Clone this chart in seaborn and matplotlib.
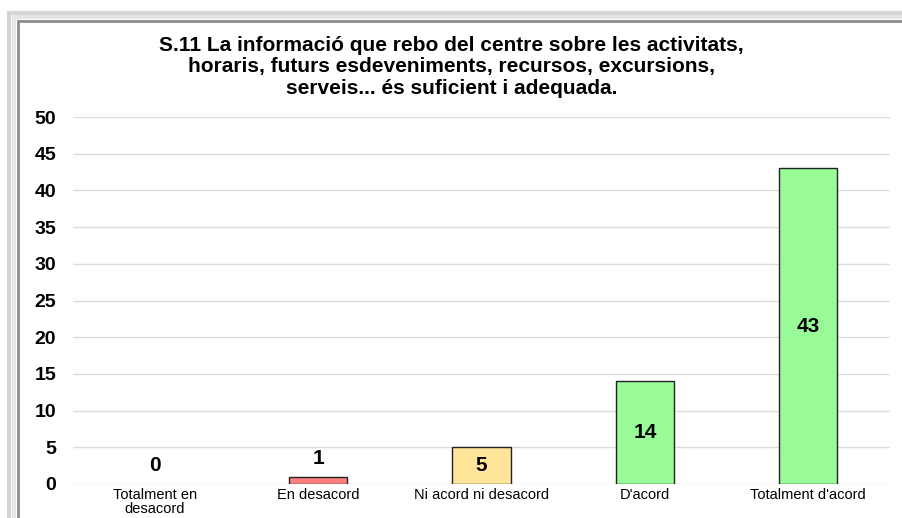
import matplotlib
matplotlib.use("Agg")
import matplotlib.pyplot as plt
from matplotlib.patches import Rectangle
import seaborn as sns
import pandas as pd

# Survey answers for question S.11
categories = ["Totalment en\ndesacord", "En desacord", "Ni acord ni desacord", "D'acord", "Totalment d'acord"]
counts = [0, 1, 5, 14, 43]
bar_colors = ["#FF7F7F", "#FF7F7F", "#FFE599", "#98FB98", "#98FB98"]
title = ("S.11 La informació que rebo del centre sobre les activitats,\n"
         "horaris, futurs esdeveniments, recursos, excursions,\n"
         "serveis... és suficient i adequada.")

sns.set_style("white")
plt.rcParams["font.family"] = ["Liberation Sans", "DejaVu Sans"]
plt.rcParams["text.color"] = "black"
plt.rcParams["xtick.color"] = "black"
plt.rcParams["ytick.color"] = "black"

df = pd.DataFrame({"cat": categories, "n": counts})

fig = plt.figure(figsize=(9.03, 5.18), dpi=100)

# grey double frame around the chart
fig.patches.append(Rectangle((9 / 903, -0.1), 1.2, 1 - 13 / 518 + 0.1, transform=fig.transFigure,
                             fill=False, edgecolor="#d4d4d4", linewidth=3, zorder=0))
fig.patches.append(Rectangle((14 / 903, -0.1), 1.2, 1 - 17 / 518 + 0.1, transform=fig.transFigure,
                             fill=False, edgecolor="#e6e6e6", linewidth=3, zorder=0))
fig.patches.append(Rectangle((18 / 903, -0.1), 1.2, 1 - 21 / 518 + 0.1, transform=fig.transFigure,
                             fill=False, edgecolor="#8c8c8c", linewidth=2, zorder=0))

ax = fig.add_axes([73 / 903, 1 - 484 / 518, 817 / 903, 367 / 518])
sns.barplot(data=df, x="cat", y="n", hue="cat", palette=bar_colors, legend=False,
            saturation=1, width=0.355, edgecolor="#222222", linewidth=1, ax=ax, zorder=2)
# zero-height bar shows no outline in the reference
for bar, v in zip(ax.patches, counts):
    if v == 0:
        bar.set_visible(False)

ax.set_ylim(0, 50)
ax.set_xlim(-0.5, 4.5)
ax.set_yticks(range(0, 51, 5))
ax.yaxis.grid(True, color="#dcdcdc", linewidth=1, zorder=0)
ax.set_axisbelow(True)
for s in ax.spines.values():
    s.set_visible(False)
ax.set_xlabel("")
ax.set_ylabel("")
ax.tick_params(axis="y", labelsize=14, pad=12, length=0)
ax.tick_params(axis="x", labelsize=10.5, pad=3, length=0)
for lbl in ax.get_yticklabels():
    lbl.set_fontweight("bold")
for lbl in ax.get_xticklabels():
    lbl.set_linespacing(0.95)

for i, v in enumerate(counts):
    if v >= 5:
        ax.text(i, v / 2, str(v), ha="center", va="center", fontsize=15, fontweight="bold")
    else:
        ax.text(i, v + 1.2, str(v), ha="center", va="bottom", fontsize=15, fontweight="bold")

fig.text(0.5, 1 - 36 / 518, title, ha="center", va="top", fontsize=15,
         fontweight="bold", linespacing=1.15)

fig.savefig("out.png", dpi=100)
